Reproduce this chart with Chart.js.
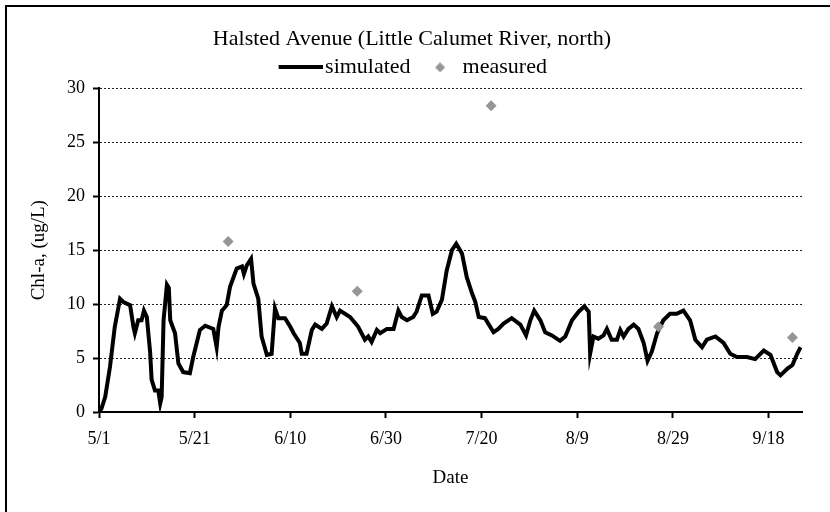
<!DOCTYPE html>
<html>
<head>
<meta charset="utf-8">
<script src="https://cdn.jsdelivr.net/npm/chart.js@4/dist/chart.umd.min.js"></script>
<style>
  html, body { margin: 0; padding: 0; background: #fff; overflow: hidden; }
  #wrap { position: relative; width: 830px; height: 512px; }
  #frame { position: absolute; left: 5px; top: 5px; width: 900px; height: 600px;
           border: 2px solid #000; box-sizing: border-box; pointer-events: none; }
  canvas { position: absolute; left: 0; top: 0; }
</style>
</head>
<body>
<div id="wrap">
  <canvas id="chart" width="830" height="512"></canvas>
  <div id="frame"></div>
</div>
<script>
// Halsted Avenue (Little Calumet River, north) - Chl-a simulated vs measured
// x values are days after 5/1

// x axis ticks
const xTickDays = [0, 20, 40, 60, 80, 100, 120, 140];
const xTickLabels = ['5/1', '5/21', '6/10', '6/30', '7/20', '8/9', '8/29', '9/18'];

// simulated series
const simDays = [
  0, 0.5, 1.3, 2.3, 3.3, 4.4, 5.1, 6.5, 7.2, 7.5, 8.2, 8.9, 9.4, 10.0, 10.7, 11.0, 11.7, 12.4,
  12.8, 13.1, 13.5, 14.2, 14.6, 14.9, 15.9, 16.6, 17.6, 19.0, 19.7, 21.1, 22.2, 23.9, 24.6, 25.0,
  25.7, 26.7, 27.4, 28.8, 29.9, 30.3, 30.9, 31.8, 32.3, 33.3, 34.0, 35.1, 36.1, 36.8, 37.5, 38.9,
  40.0, 40.7, 42.0, 42.4, 43.4, 44.5, 45.2, 46.6, 47.6, 48.7, 49.7, 50.4, 52.5, 54.2, 55.6, 56.3,
  57.0, 58.1, 58.8, 60.2, 61.6, 62.6, 63.3, 64.4, 65.7, 66.4, 67.5, 68.9, 69.8, 70.6, 71.7, 72.7,
  73.8, 74.7, 75.9, 76.9, 78.0, 78.7, 79.4, 80.7, 82.5, 83.5, 84.6, 86.3, 88.1, 89.3, 90.2, 91.0,
  92.3, 93.3, 94.7, 96.4, 97.5, 98.9, 100.3, 101.5, 102.4, 102.7, 103.4, 104.4, 105.5, 106.2, 107.2,
  108.3, 109.0, 109.7, 110.7, 111.8, 112.8, 113.9, 114.7, 115.6, 116.7, 118.0, 119.4, 120.8, 122.2,
  123.6, 124.7, 126.1, 127.1, 128.9, 130.6, 132.0, 133.4, 135.5, 137.2, 139.0, 140.4, 141.8, 142.5,
  143.9, 145.0, 146.0, 146.7
];
const simValues = [
  0, 0.3, 1.4, 4.2, 7.9, 10.5, 10.2, 9.9, 7.9, 7.3, 8.5, 8.5, 9.4, 8.8, 5.5, 3.0, 2.0, 2.0,
  0.8, 1.4, 8.5, 11.8, 11.5, 8.5, 7.3, 4.5, 3.7, 3.6, 5.1, 7.6, 8.0, 7.7, 6.0, 7.9,
  9.4, 9.9, 11.6, 13.3, 13.5, 12.8, 13.6, 14.2, 11.9, 10.5, 7.0, 5.3, 5.4, 9.6, 8.7, 8.7,
  7.9, 7.3, 6.4, 5.4, 5.4, 7.6, 8.1, 7.7, 8.2, 9.8, 8.8, 9.4, 8.8, 7.9, 6.7, 7.0,
  6.5, 7.6, 7.3, 7.7, 7.7, 9.4, 8.8, 8.5, 8.8, 9.3, 10.8, 10.8, 9.1, 9.3, 10.4, 13.1,
  15.0, 15.6, 14.7, 12.5, 11.0, 10.2, 8.8, 8.7, 7.4, 7.7, 8.2, 8.7, 8.1, 7.1, 8.5, 9.4,
  8.5, 7.4, 7.1, 6.6, 7.0, 8.5, 9.3, 9.8, 9.3, 5.4, 7.0, 6.8, 7.1, 7.7, 6.7,
  6.7, 7.6, 7.0, 7.7, 8.1, 7.7, 6.4, 4.75, 5.6, 7.3, 8.5, 9.1, 9.1, 9.4,
  8.5, 6.7, 6.0, 6.7, 7.0, 6.4, 5.4, 5.1, 5.1, 4.9, 5.7, 5.3, 3.7, 3.4,
  4.0, 4.35, 5.4, 6.0
];

// measured samples
const measDays = [27, 54, 82, 117, 145];
const measValues = [15.8, 11.2, 28.4, 7.9, 6.9];

const FONT = "'Liberation Serif', 'Times New Roman', serif";
const GREY = '#969696';

// legend swatches (line + diamond), drawn off-screen
function lineSwatch() {
  const c = document.createElement('canvas');
  c.width = 54; c.height = 4;
  const g = c.getContext('2d');
  g.fillStyle = '#000';
  g.fillRect(10, 0, 44, 4);
  return c;
}
function diamondSwatch() {
  const c = document.createElement('canvas');
  c.width = 28; c.height = 10;
  const g = c.getContext('2d');
  g.fillStyle = GREY;
  g.beginPath();
  g.moveTo(21, 0); g.lineTo(26, 5); g.lineTo(21, 10); g.lineTo(16, 5);
  g.closePath(); g.fill();
  return c;
}

const ctx = document.getElementById('chart').getContext('2d');
const chart = new Chart(ctx, {
  type: 'scatter',
  data: {
    datasets: [{
      label: 'simulated',
      data: simDays.map((d, i) => ({x: d, y: simValues[i]})),
      showLine: true,
      borderColor: '#000',
      borderWidth: 4,
      pointRadius: 0,
      tension: 0,
      order: 1
    }, {
      label: 'measured',
      data: measDays.map((d, i) => ({x: d, y: measValues[i]})),
      showLine: false,
      pointStyle: 'rectRot',
      pointRadius: 5.5,
      pointBackgroundColor: GREY,
      pointBorderWidth: 0,
      order: 0
    }]
  },
  options: {
    responsive: false,
    animation: false,
    layout: { padding: { left: 0, right: 6, top: 0, bottom: 0 } },
    plugins: {
      tooltip: { enabled: false },
      title: {
        display: true,
        text: 'Halsted Avenue (Little Calumet River, north)',
        color: '#000',
        font: { family: FONT, size: 22, weight: 'normal' },
        padding: { top: 26, bottom: 0 }
      },
      legend: {
        display: true,
        labels: {
          color: '#000',
          font: { family: FONT, size: 22 },
          usePointStyle: true,
          pointStyleWidth: 37,
          padding: 4,
          generateLabels: () => [
            { text: 'simulated', pointStyle: lineSwatch(), fillStyle: '#000', strokeStyle: '#000', lineWidth: 0, hidden: false, datasetIndex: 0 },
            { text: 'measured', pointStyle: diamondSwatch(), fillStyle: GREY, strokeStyle: GREY, lineWidth: 0, hidden: false, datasetIndex: 1 }
          ]
        }
      }
    },
    scales: {
      x: {
        type: 'linear',
        min: 0,
        max: 147,
        afterBuildTicks: s => { s.ticks = xTickDays.map(v => ({ value: v })); },
        afterFit: s => { s.height = 100; },
        ticks: {
          autoSkip: false,
          maxRotation: 0,
          color: '#000',
          padding: 10,
          font: { family: FONT, size: 18 },
          callback: v => xTickLabels[xTickDays.indexOf(v)]
        },
        grid: { drawOnChartArea: false, drawTicks: true, tickLength: 6, tickWidth: 2, tickColor: '#000' },
        border: { color: '#000', width: 2 },
        title: {
          display: true,
          text: 'Date',
          color: '#000',
          font: { family: FONT, size: 19 },
          padding: { top: 0, bottom: 23 }
        }
      },
      y: {
        min: 0,
        max: 30,
        afterFit: s => { s.width = 99; },
        ticks: {
          stepSize: 5,
          color: '#000',
          padding: 8,
          font: { family: FONT, size: 18 }
        },
        grid: { color: '#222', lineWidth: 1, tickColor: '#000', tickWidth: 2, tickLength: 6, tickBorderDash: [] },
        border: { color: '#000', width: 2, dash: [2, 2] },
        title: {
          display: true,
          text: 'Chl-a, (ug/L)',
          color: '#000',
          font: { family: FONT, size: 19 },
          padding: { top: 28, bottom: 0 }
        }
      },
      // empty right margin so the plot ends where the reference's does
      yRight: {
        position: 'right',
        min: 0,
        max: 30,
        afterFit: s => { s.width = 22; },
        ticks: { display: false },
        grid: { display: false, drawTicks: false },
        border: { display: false }
      }
    }
  }
});
</script>
</body>
</html>
